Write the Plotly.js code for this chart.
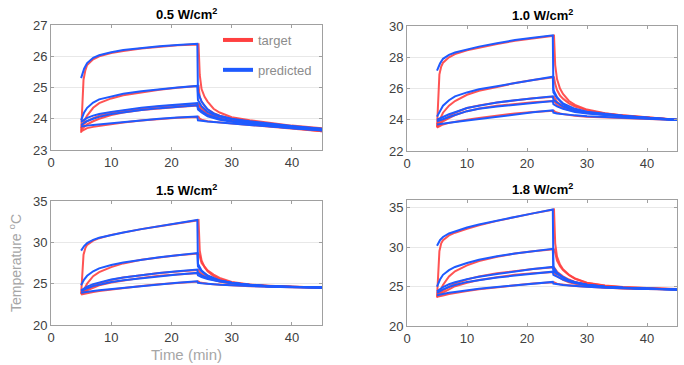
<!DOCTYPE html>
<html>
<head>
<meta charset="utf-8">
<script src="https://cdn.plot.ly/plotly-3.0.1.min.js"></script>
<style>html,body{margin:0;padding:0;background:#fff}#chart{width:684px;height:365px}</style>
</head>
<body>
<div id="chart"></div>
<script>
// time axes (min)
const tPred = [5, 5.5, 6, 7, 8, 10, 12, 15, 18, 21, 24.3, 24.4, 25, 26, 27, 28, 30, 33, 36, 40, 45];
const tTarg = [5, 5.2, 5.4, 5.7, 6, 7, 8, 10, 12, 15, 18, 21, 24.5, 24.7, 25, 25.5, 26, 27, 28, 30, 33, 36, 40, 45];

const panelTitles = ["0.5 W/cm<sup>2</sup>", "1.0 W/cm<sup>2</sup>", "1.5 W/cm<sup>2</sup>", "1.8 W/cm<sup>2</sup>"];
const legendNames = ["target", "predicted"];
const xTitle = "Time (min)";
const yTitle = "Temperature <sup>o</sup>C";

// ---- 0.5 W/cm2 ----
const p05_pred_A = [25.3, 25.6, 25.78, 25.95, 26.03, 26.13, 26.2, 26.27, 26.32, 26.36, 26.4, 24.85, 24.55, 24.3, 24.17, 24.1, 24.0, 23.92, 23.85, 23.77, 23.68];
const p05_targ_A = [23.55, 24.7, 25.25, 25.55, 25.72, 25.9, 26.0, 26.1, 26.17, 26.25, 26.31, 26.35, 26.38, 25.4, 24.95, 24.7, 24.55, 24.32, 24.2, 24.05, 23.95, 23.87, 23.78, 23.7];
const p05_pred_B = [23.95, 24.2, 24.35, 24.52, 24.62, 24.72, 24.8, 24.88, 24.95, 25.0, 25.05, 24.6, 24.4, 24.22, 24.13, 24.07, 23.98, 23.9, 23.83, 23.75, 23.67];
const p05_targ_B = [23.7, 23.8, 23.9, 24.0, 24.1, 24.35, 24.5, 24.65, 24.75, 24.85, 24.93, 24.99, 25.05, 24.7, 24.55, 24.4, 24.3, 24.18, 24.1, 24.0, 23.92, 23.85, 23.75, 23.68];
const p05_pred_C = [23.9, 23.98, 24.03, 24.1, 24.15, 24.22, 24.28, 24.35, 24.41, 24.46, 24.5, 24.35, 24.25, 24.12, 24.05, 24.0, 23.93, 23.86, 23.79, 23.72, 23.65];
const p05_targ_C = [23.75, 23.78, 23.82, 23.87, 23.92, 24.02, 24.1, 24.2, 24.26, 24.33, 24.39, 24.44, 24.48, 24.42, 24.35, 24.27, 24.2, 24.1, 24.05, 23.97, 23.88, 23.82, 23.73, 23.62];
const p05_pred_D = [23.8, 23.87, 23.93, 24.0, 24.06, 24.15, 24.21, 24.28, 24.34, 24.39, 24.43, 24.3, 24.2, 24.08, 24.02, 23.97, 23.9, 23.83, 23.77, 23.7, 23.62];
const p05_targ_D = [23.65, 23.68, 23.72, 23.77, 23.82, 23.92, 24.0, 24.12, 24.2, 24.28, 24.34, 24.38, 24.42, 24.36, 24.3, 24.22, 24.15, 24.07, 24.0, 23.93, 23.85, 23.78, 23.7, 23.6];
const p05_pred_E = [23.75, 23.77, 23.78, 23.8, 23.82, 23.86, 23.9, 23.95, 24.0, 24.04, 24.07, 23.95, 23.93, 23.91, 23.9, 23.88, 23.85, 23.8, 23.76, 23.7, 23.63];
const p05_targ_E = [23.6, 23.62, 23.65, 23.68, 23.7, 23.74, 23.77, 23.83, 23.88, 23.94, 23.99, 24.03, 24.06, 24.0, 23.97, 23.94, 23.92, 23.9, 23.88, 23.85, 23.8, 23.75, 23.68, 23.6];

// ---- 1.0 W/cm2 ----
const p10_pred_A = [27.15, 27.6, 27.9, 28.15, 28.3, 28.5, 28.68, 28.9, 29.1, 29.25, 29.4, 25.9, 25.45, 25.0, 24.75, 24.6, 24.45, 24.32, 24.22, 24.12, 24.0];
const p10_targ_A = [23.5, 25.5, 26.9, 27.4, 27.65, 28.0, 28.2, 28.45, 28.62, 28.85, 29.05, 29.2, 29.38, 27.5, 26.6, 26.0, 25.65, 25.2, 24.95, 24.65, 24.42, 24.28, 24.15, 24.0];
const p10_pred_B = [24.2, 24.6, 24.9, 25.25, 25.5, 25.75, 25.95, 26.15, 26.35, 26.55, 26.75, 25.75, 25.4, 25.05, 24.85, 24.7, 24.52, 24.37, 24.25, 24.13, 24.0];
const p10_targ_B = [23.7, 23.8, 23.95, 24.2, 24.45, 24.9, 25.2, 25.6, 25.85, 26.1, 26.35, 26.55, 26.72, 26.3, 25.9, 25.55, 25.35, 25.05, 24.85, 24.6, 24.4, 24.27, 24.15, 24.0];
const p10_pred_C = [24.0, 24.1, 24.2, 24.35, 24.48, 24.75, 24.9, 25.1, 25.25, 25.38, 25.5, 25.3, 25.1, 24.85, 24.7, 24.6, 24.47, 24.34, 24.24, 24.12, 24.0];
const p10_targ_C = [23.6, 23.7, 23.8, 23.9, 24.0, 24.25, 24.45, 24.75, 24.92, 25.1, 25.25, 25.37, 25.47, 25.3, 25.15, 25.0, 24.85, 24.7, 24.6, 24.48, 24.35, 24.25, 24.13, 24.0];
const p10_pred_D = [23.9, 23.97, 24.05, 24.18, 24.3, 24.55, 24.7, 24.85, 24.97, 25.1, 25.2, 25.0, 24.85, 24.7, 24.6, 24.5, 24.4, 24.3, 24.2, 24.1, 23.98];
const p10_targ_D = [23.55, 23.62, 23.7, 23.8, 23.9, 24.1, 24.3, 24.55, 24.72, 24.9, 25.02, 25.12, 25.2, 25.1, 24.95, 24.85, 24.75, 24.63, 24.55, 24.43, 24.32, 24.22, 24.12, 23.98];
const p10_pred_E = [23.7, 23.72, 23.75, 23.8, 23.85, 23.95, 24.05, 24.2, 24.35, 24.48, 24.6, 24.45, 24.4, 24.35, 24.32, 24.28, 24.22, 24.17, 24.12, 24.06, 23.98];
const p10_targ_E = [23.5, 23.55, 23.6, 23.65, 23.7, 23.8, 23.88, 24.0, 24.12, 24.28, 24.4, 24.5, 24.58, 24.5, 24.45, 24.4, 24.36, 24.3, 24.26, 24.2, 24.15, 24.1, 24.05, 23.98];

// ---- 1.5 W/cm2 ----
const p15_pred_A = [29.0, 29.55, 29.9, 30.3, 30.55, 30.9, 31.2, 31.6, 31.95, 32.3, 32.7, 27.4, 26.6, 26.0, 25.65, 25.4, 25.1, 24.85, 24.7, 24.6, 24.55];
const p15_targ_A = [23.7, 26.5, 28.5, 29.3, 29.7, 30.2, 30.5, 30.9, 31.2, 31.6, 31.95, 32.3, 32.68, 29.0, 27.8, 27.0, 26.5, 25.9, 25.55, 25.15, 24.88, 24.72, 24.62, 24.55];
const p15_pred_B = [24.8, 25.5, 25.95, 26.5, 26.85, 27.25, 27.55, 27.9, 28.2, 28.45, 28.7, 27.1, 26.5, 25.95, 25.6, 25.38, 25.08, 24.84, 24.7, 24.6, 24.55];
const p15_targ_B = [23.8, 23.95, 24.2, 24.6, 25.0, 25.9, 26.4, 27.0, 27.45, 27.9, 28.2, 28.45, 28.65, 28.3, 27.5, 27.0, 26.6, 26.1, 25.7, 25.2, 24.9, 24.73, 24.62, 24.55];
const p15_pred_C = [24.2, 24.45, 24.65, 24.95, 25.15, 25.5, 25.75, 26.05, 26.3, 26.5, 26.7, 26.3, 26.0, 25.7, 25.5, 25.35, 25.1, 24.85, 24.7, 24.6, 24.55];
const p15_targ_C = [23.9, 23.95, 24.05, 24.2, 24.35, 24.75, 25.05, 25.45, 25.75, 26.05, 26.3, 26.48, 26.65, 26.4, 26.2, 26.0, 25.8, 25.5, 25.3, 25.05, 24.85, 24.72, 24.62, 24.55];
const p15_pred_D = [24.1, 24.3, 24.45, 24.7, 24.85, 25.2, 25.4, 25.65, 25.85, 26.1, 26.3, 26.0, 25.8, 25.55, 25.4, 25.25, 25.05, 24.82, 24.68, 24.6, 24.55];
const p15_targ_D = [23.8, 23.85, 23.92, 24.05, 24.2, 24.55, 24.8, 25.15, 25.4, 25.7, 25.95, 26.12, 26.28, 26.1, 25.95, 25.8, 25.65, 25.42, 25.25, 25.02, 24.83, 24.7, 24.6, 24.55];
const p15_pred_E = [23.9, 23.97, 24.03, 24.12, 24.2, 24.35, 24.5, 24.7, 24.88, 25.1, 25.3, 25.1, 25.05, 24.98, 24.92, 24.87, 24.8, 24.7, 24.63, 24.58, 24.53];
const p15_targ_E = [23.7, 23.72, 23.75, 23.8, 23.85, 23.98, 24.1, 24.3, 24.5, 24.72, 24.92, 25.1, 25.25, 25.15, 25.1, 25.05, 25.0, 24.93, 24.87, 24.8, 24.7, 24.62, 24.57, 24.52];

// ---- 1.8 W/cm2 ----
const p18_pred_A = [30.2, 30.9, 31.3, 31.75, 32.0, 32.5, 32.9, 33.4, 33.85, 34.3, 34.8, 27.5, 26.8, 26.2, 25.8, 25.55, 25.25, 25.0, 24.85, 24.75, 24.65];
const p18_targ_A = [23.6, 27.0, 29.5, 30.5, 30.9, 31.5, 31.85, 32.35, 32.8, 33.35, 33.85, 34.3, 34.8, 30.5, 28.8, 27.8, 27.2, 26.5, 26.05, 25.5, 25.15, 24.95, 24.82, 24.7];
const p18_pred_B = [25.0, 25.9, 26.5, 27.1, 27.5, 28.0, 28.4, 28.85, 29.2, 29.5, 29.8, 27.3, 26.7, 26.15, 25.78, 25.53, 25.23, 24.98, 24.84, 24.74, 24.65];
const p18_targ_B = [23.8, 23.95, 24.25, 24.7, 25.2, 26.3, 26.95, 27.7, 28.25, 28.8, 29.2, 29.5, 29.75, 29.3, 28.3, 27.6, 27.1, 26.45, 26.0, 25.45, 25.1, 24.92, 24.8, 24.68];
const p18_pred_C = [24.4, 24.7, 24.95, 25.3, 25.55, 25.95, 26.25, 26.6, 26.95, 27.25, 27.5, 27.0, 26.6, 26.15, 25.8, 25.55, 25.25, 25.0, 24.85, 24.75, 24.65];
const p18_targ_C = [24.0, 24.05, 24.15, 24.3, 24.5, 25.0, 25.4, 25.9, 26.3, 26.7, 27.0, 27.25, 27.45, 27.2, 26.9, 26.6, 26.3, 25.9, 25.6, 25.25, 25.0, 24.87, 24.77, 24.67];
const p18_pred_D = [24.2, 24.45, 24.65, 24.95, 25.2, 25.6, 25.85, 26.15, 26.4, 26.65, 26.9, 26.5, 26.25, 25.9, 25.65, 25.45, 25.18, 24.95, 24.82, 24.73, 24.64];
const p18_targ_D = [23.85, 23.9, 23.98, 24.1, 24.25, 24.7, 25.05, 25.5, 25.85, 26.2, 26.5, 26.7, 26.85, 26.6, 26.35, 26.1, 25.85, 25.55, 25.35, 25.1, 24.9, 24.8, 24.72, 24.64];
const p18_pred_E = [23.9, 24.0, 24.1, 24.22, 24.33, 24.55, 24.72, 24.95, 25.15, 25.4, 25.6, 25.4, 25.32, 25.22, 25.15, 25.08, 24.98, 24.87, 24.78, 24.7, 24.62];
const p18_targ_E = [23.7, 23.72, 23.76, 23.82, 23.88, 24.05, 24.2, 24.45, 24.68, 24.95, 25.2, 25.4, 25.55, 25.45, 25.38, 25.3, 25.25, 25.15, 25.07, 24.97, 24.85, 24.75, 24.7, 24.62];

const yRanges = [[23, 27], [22, 30], [20, 35], [20, 36]];
const yDticks = [1, 2, 5, 5];

const panels = [
  {targ: [p05_targ_A, p05_targ_B, p05_targ_C, p05_targ_D, p05_targ_E], pred: [p05_pred_A, p05_pred_B, p05_pred_C, p05_pred_D, p05_pred_E]},
  {targ: [p10_targ_A, p10_targ_B, p10_targ_C, p10_targ_D, p10_targ_E], pred: [p10_pred_A, p10_pred_B, p10_pred_C, p10_pred_D, p10_pred_E]},
  {targ: [p15_targ_A, p15_targ_B, p15_targ_C, p15_targ_D, p15_targ_E], pred: [p15_pred_A, p15_pred_B, p15_pred_C, p15_pred_D, p15_pred_E]},
  {targ: [p18_targ_A, p18_targ_B, p18_targ_C, p18_targ_D, p18_targ_E], pred: [p18_pred_A, p18_pred_B, p18_pred_C, p18_pred_D, p18_pred_E]}
];

const RED = 'rgb(255,64,64)';
const BLUE = 'rgb(30,90,255)';
const FONT = 'Liberation Sans, Arial, sans-serif';

const traces = [];
panels.forEach((p, i) => {
  const xa = i === 0 ? 'x' : 'x' + (i + 1);
  const ya = i === 0 ? 'y' : 'y' + (i + 1);
  p.targ.forEach(arr => traces.push({x: tTarg, y: arr, xaxis: xa, yaxis: ya, mode: 'lines', showlegend: false,
    line: {color: RED, width: 2}, opacity: 0.9, hoverinfo: 'skip'}));
  p.pred.forEach(arr => traces.push({x: tPred, y: arr, xaxis: xa, yaxis: ya, mode: 'lines', showlegend: false,
    line: {color: BLUE, width: 2}, hoverinfo: 'skip'}));
});
// legend entries
traces.push({x: [null], y: [null], mode: 'lines', name: legendNames[0], legendgroup: 'g1', line: {color: RED, width: 4}});
traces.push({x: [null], y: [null], mode: 'lines', name: legendNames[1], legendgroup: 'g2', line: {color: BLUE, width: 4}});

const W = 684, H = 365;
// plot boxes in pixels [left, right, top, bottom]
const boxes = [[51, 322, 25, 150], [407, 677, 26, 151], [51, 322, 201, 325], [407, 677, 200, 326]];

const layout = {
  width: W, height: H,
  margin: {l: 0, r: 0, t: 0, b: 0},
  paper_bgcolor: '#fff', plot_bgcolor: '#fff',
  font: {family: FONT, size: 13, color: '#404040'},
  showlegend: true,
  legend: {x: 218 / W, y: 1 - 25 / H, xanchor: 'left', yanchor: 'top', bgcolor: 'rgba(0,0,0,0)',
    font: {family: FONT, size: 13, color: '#8c8c8c'}, traceorder: 'grouped', tracegroupgap: 10},
  annotations: [],
};

boxes.forEach((b, i) => {
  const sfx = i === 0 ? '' : String(i + 1);
  const xa = {
    domain: [b[0] / W, b[1] / W], range: [0, 45], dtick: 10, tick0: 0,
    showline: true, linecolor: '#a0a0a0', linewidth: 1, mirror: 'ticks',
    ticks: 'inside', ticklen: 3, tickcolor: '#a0a0a0', showgrid: false, zeroline: false,
    tickfont: {family: FONT, size: 13, color: '#404040'},
    anchor: 'y' + sfx, fixedrange: true
  };
  const ya = {
    domain: [1 - b[3] / H, 1 - b[2] / H], range: yRanges[i], dtick: yDticks[i], tick0: 0,
    showline: true, linecolor: '#a0a0a0', linewidth: 1, mirror: 'ticks',
    ticks: 'inside', ticklen: 3, tickcolor: '#a0a0a0', showgrid: true, gridcolor: '#e8e8e8', zeroline: false,
    tickfont: {family: FONT, size: 13, color: '#404040'},
    anchor: 'x' + sfx, fixedrange: true
  };
  if (i === 2) {
    xa.title = {text: xTitle, font: {family: FONT, size: 15, color: '#a6a6a6'}, standoff: 5};
    ya.title = {text: yTitle, font: {family: FONT, size: 14, color: '#a6a6a6'}, standoff: 8};
  }
  layout['xaxis' + sfx] = xa;
  layout['yaxis' + sfx] = ya;
  layout.annotations.push({
    text: '<b>' + panelTitles[i] + '</b>', xref: 'paper', yref: 'paper',
    x: (b[0] + b[1]) / 2 / W, y: 1 - (b[2] - 1) / H, xanchor: 'center', yanchor: 'bottom',
    showarrow: false, font: {family: FONT, size: 13, color: '#000'}
  });
});

Plotly.newPlot('chart', traces, layout, {displayModeBar: false, staticPlot: true});
</script>
</body>
</html>
